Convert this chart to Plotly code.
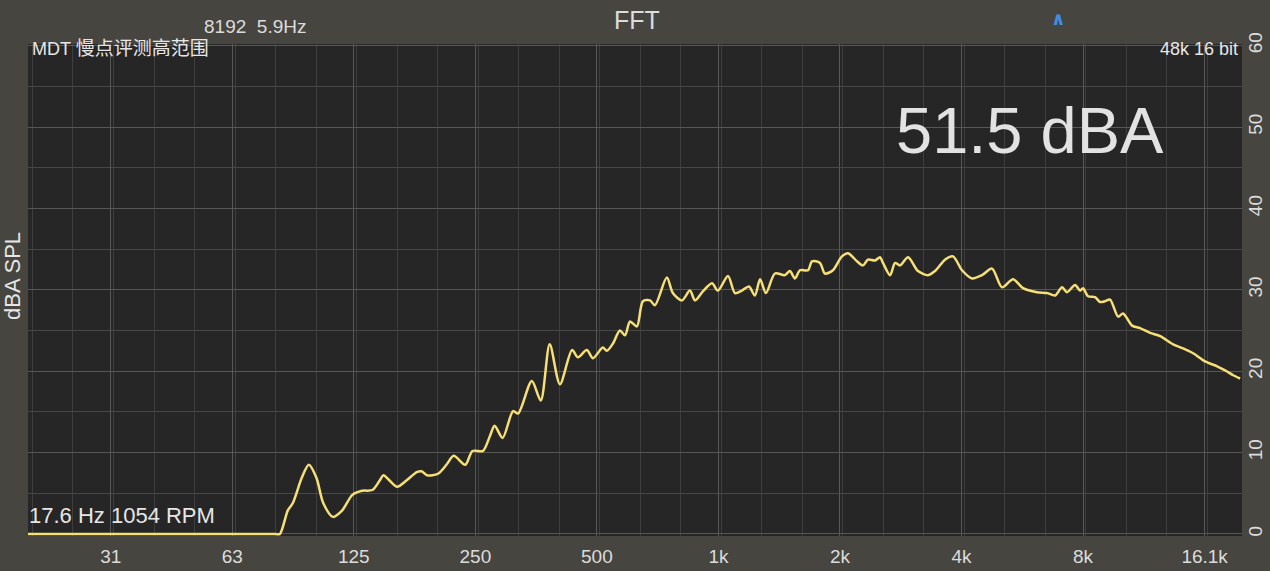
import plotly.graph_objects as go

# ---- data ----
freq_hz = [19.5, 40.0, 70.0, 80.0, 82.0, 85.8, 88.3, 92.9, 96.7, 101, 105, 111, 117, 124, 131, 139, 145, 148,
           153, 160, 169, 179, 184, 190, 202, 212, 221, 236, 246, 261, 272, 279, 292,
           310, 319, 345, 363, 382, 405, 434, 449, 472, 489, 517, 529, 548, 570, 587,
           604, 628, 650, 677, 696, 745, 771, 812, 850, 875, 915, 964, 997, 1056, 1099,
           1143, 1190, 1231, 1268, 1311, 1380, 1461, 1503, 1547, 1592, 1667, 1705, 1784, 1836, 1921,
           2022, 2093, 2204, 2280, 2346, 2442, 2513, 2556, 2661, 2738, 2817, 2949, 3121, 3304, 3439,
           3640, 3810, 4011, 4246, 4496, 4760, 5039, 5366, 5681, 6152, 6515, 6820, 7096, 7301, 7643,
           7863, 8000, 8230, 8568, 8815, 9070, 9331, 9768, 10050, 10578, 11072, 11721, 12415, 13367, 14153,
           14984, 16045, 17183, 17986, 18827, 19590]
level_dba = [0.0, 0.0, 0.0, 0.0, 0.0, 2.9, 3.8, 6.9, 8.5, 6.9, 3.8, 2.1, 2.9, 4.8, 5.3, 5.4, 6.6, 7.2,
             6.6, 5.8, 6.6, 7.6, 7.7, 7.2, 7.4, 8.5, 9.6, 8.5, 10.2, 10.2, 12.1, 13.3, 11.8,
             15.1, 14.8, 18.8, 16.4, 23.3, 18.4, 22.6, 21.7, 22.6, 21.6, 22.9, 22.5, 23.4, 25.0, 24.4,
             26.1, 25.5, 28.6, 28.7, 28.1, 31.5, 29.6, 28.7, 29.9, 28.7, 29.8, 30.8, 29.9, 31.7, 29.6,
             29.9, 30.4, 29.3, 31.3, 29.6, 32.0, 31.8, 32.3, 31.4, 32.4, 32.4, 33.5, 33.3, 32.0, 32.4,
             34.1, 34.5, 33.5, 33.0, 33.7, 33.6, 34.0, 33.3, 31.8, 33.3, 33.0, 34.0, 32.3, 31.8, 32.3,
             33.7, 34.1, 32.4, 31.4, 31.8, 32.6, 30.3, 31.3, 30.2, 29.7, 29.6, 29.3, 30.3, 29.7, 30.6,
             29.9, 30.2, 29.2, 29.1, 28.5, 28.6, 28.8, 26.7, 27.1, 25.6, 25.3, 24.7, 24.3, 23.3, 22.8,
             22.2, 21.2, 20.6, 20.1, 19.5, 19.1]

tick_freqs = [31.25, 62.5, 125, 250, 500, 1000, 2000, 4000, 8000, 16000]
tick_labels = ["31", "63", "125", "250", "500", "1k", "2k", "4k", "8k", "16.1k"]
y_ticks = [0, 10, 20, 30, 40, 50, 60]

title_text = "FFT"
fft_info = "8192  5.9Hz"
device_text = "MDT 慢点评测高范围"
format_text = "48k 16 bit"
overall_level = "51.5 dBA"
rpm_text = "17.6 Hz 1054 RPM"
y_title = "dBA SPL"

# ---- layout geometry ----
W, H = 1270, 571
L, R, T, B = 28, 28, 44, 35
PW, PH = W - L - R, H - T - B

def px(x):
    return (x - L) / PW

def py(y):
    return (H - B - y) / PH

FONT = "Liberation Sans, Arial, sans-serif"
TXT = "#dcdcdc"

# third-octave minor grid positions (styling only)
minor_vals = [20.0 * 2 ** (k / 3) for k in range(0, 31)]

fig = go.Figure()
fig.add_trace(go.Scatter(
    x=freq_hz, y=level_dba, mode="lines",
    line=dict(color="#f6df76", width=2.5, shape="spline", smoothing=0.8),
    hoverinfo="skip", showlegend=False, cliponaxis=False,
))

fig.update_layout(
    width=W, height=H,
    margin=dict(l=L, r=R, t=T, b=B, pad=0),
    paper_bgcolor="#47453f",
    plot_bgcolor="#262626",
    font=dict(family=FONT, color=TXT, size=18),
    showlegend=False,
    xaxis=dict(
        type="log", automargin=False,
        range=[1.29, 4.2967],
        tickmode="array", tickvals=tick_freqs, ticktext=tick_labels,
        showgrid=True, gridcolor="#585858", gridwidth=1,
        zeroline=False, showline=False, ticks="",
        tickfont=dict(size=19, color=TXT, family=FONT),
        ticklabelstandoff=7,
        minor=dict(tickmode="array", tickvals=minor_vals, showgrid=True,
                   gridcolor="#3e3e3e", gridwidth=1, ticks=""),
    ),
    yaxis=dict(
        side="right", automargin=False,
        range=[-0.25, 60.2],
        tickmode="array", tickvals=y_ticks,
        showgrid=True, gridcolor="#575757", gridwidth=1,
        zeroline=False, showline=False, ticks="",
        tickangle=-90,
        tickfont=dict(size=19, color=TXT, family=FONT),
        minor=dict(dtick=5, showgrid=True, gridcolor="#474747", gridwidth=1, ticks=""),
    ),
)

ann = []
ann.append(dict(text=title_text, x=px(637), y=py(20), xref="paper", yref="paper",
                showarrow=False, font=dict(size=25, color=TXT, family=FONT),
                xanchor="center", yanchor="middle"))
ann.append(dict(text=fft_info, x=px(202), y=py(27), xref="paper", yref="paper",
                showarrow=False, font=dict(size=19, color=TXT, family=FONT),
                xanchor="left", yanchor="middle"))
ann.append(dict(text="<b>∧</b>", x=px(1058), y=py(18), xref="paper", yref="paper",
                showarrow=False, font=dict(size=18, color="#3d8fe6", family="DejaVu Sans"),
                xanchor="center", yanchor="middle"))
ann.append(dict(text="MDT <span style='font-size:19px'>慢点评测高范围</span>",
                x=px(30), y=py(49), xref="paper", yref="paper",
                showarrow=False, font=dict(size=18, color="#e6e6e6",
                                           family="Liberation Sans, Noto Sans CJK SC, sans-serif"),
                xanchor="left", yanchor="middle"))
ann.append(dict(text=format_text, x=px(1240), y=py(49), xref="paper", yref="paper",
                showarrow=False, font=dict(size=18, color="#e6e6e6", family=FONT),
                xanchor="right", yanchor="middle"))
ann.append(dict(text=overall_level, x=px(1030), y=py(130), xref="paper", yref="paper",
                showarrow=False, font=dict(size=65, color="#e2e2e2", family=FONT),
                xanchor="center", yanchor="middle"))
ann.append(dict(text=rpm_text, x=px(27), y=py(515), xref="paper", yref="paper",
                showarrow=False, font=dict(size=22, color="#e6e6e6", family=FONT),
                xanchor="left", yanchor="middle"))
ann.append(dict(text=y_title, x=px(12), y=py(276), xref="paper", yref="paper",
                showarrow=False, textangle=-90, font=dict(size=22, color="#e6e6e6", family=FONT),
                xanchor="center", yanchor="middle"))
fig.update_layout(annotations=ann)

fig.write_html("out.html", config={"displayModeBar": False},
               post_script="document.body.style.margin='0';document.body.style.overflow='hidden';")
